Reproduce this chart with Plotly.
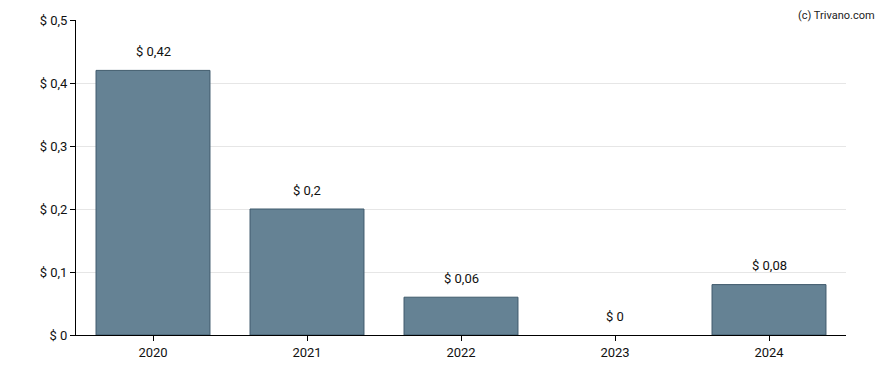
import plotly.graph_objects as go

years = ["2020", "2021", "2022", "2023", "2024"]
values = [0.42, 0.2, 0.06, 0, 0.08]
labels = ["$ 0,42", "$ 0,2", "$ 0,06", "$ 0", "$ 0,08"]
ytick_vals = [0, 0.1, 0.2, 0.3, 0.4, 0.5]
ytick_text = ["$ 0", "$ 0,1", "$ 0,2", "$ 0,3", "$ 0,4", "$ 0,5"]

xpos = list(range(len(years)))

fig = go.Figure()
fig.add_trace(go.Bar(
    x=xpos, y=values,
    marker=dict(color="#658294",
                line=dict(color="#3f5a6c", width=[1 if v > 0 else 0 for v in values])),
    hoverinfo="skip",
))
for xp, v, t in zip(xpos, values, labels):
    fig.add_annotation(x=xp, y=v, text=t, showarrow=False, yshift=19,
                       font=dict(family="Roboto", size=13, color="#111"))

fig.add_annotation(xref="paper", yref="paper", x=1.04, y=1.0, yshift=5,
                   text="(c) Trivano.com", showarrow=False, xanchor="right",
                   yanchor="middle",
                   font=dict(family="Roboto", size=11, color="#222"))

# page body has an 8px margin; compensate so the plot area lands where the reference has it
fig.update_layout(
    width=888, height=370,
    autosize=False,
    margin=dict(l=68, r=50, t=12, b=43, pad=0),
    plot_bgcolor="white", paper_bgcolor="white",
    bargap=0.26,
    showlegend=False,
    font=dict(family="Roboto", size=13, color="#111"),
    xaxis=dict(range=[-0.5, len(years) - 0.5], tickvals=xpos, ticktext=years,
               showline=True, linecolor="black", linewidth=1, automargin=False,
               ticks="outside", ticklen=5, tickcolor="black", showgrid=False,
               zeroline=False, tickfont=dict(size=13)),
    yaxis=dict(range=[0, 0.5], tickvals=ytick_vals, ticktext=ytick_text,
               showline=True, linecolor="black", linewidth=1, ticks="outside",
               automargin=False,
               ticklen=5, tickcolor="black", showgrid=True, gridcolor="#e6e6e6",
               zeroline=False, tickfont=dict(size=13)),
)
fig.write_html("out.html")
